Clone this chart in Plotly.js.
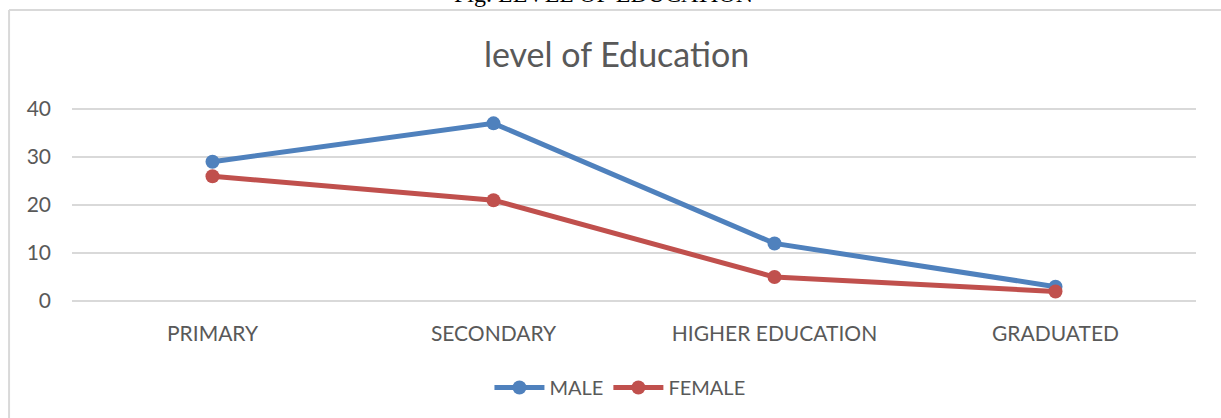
<!DOCTYPE html>
<html>
<head>
<meta charset="utf-8">
<script src="https://cdn.plot.ly/plotly-3.0.1.min.js"></script>
<style>html,body{margin:0;padding:0;background:#fff;overflow:hidden}#chart{width:1221px;height:418px}</style>
</head>
<body>
<div id="chart"></div>
<script>
const categories = ["PRIMARY", "SECONDARY", "HIGHER EDUCATION", "GRADUATED"];
const maleValues = [29, 37, 12, 3];
const femaleValues = [26, 21, 5, 2];
const yTicks = [0, 10, 20, 30, 40];

const font = "Lato, 'Open Sans', sans-serif";
const grey = "#595959";

const traces = [
  {x: categories, y: maleValues, name: "MALE", type: "scatter", mode: "lines+markers",
   line: {color: "#4F81BD", width: 5}, marker: {color: "#4F81BD", size: 14}},
  {x: categories, y: femaleValues, name: "FEMALE", type: "scatter", mode: "lines+markers",
   line: {color: "#C0504D", width: 5}, marker: {color: "#C0504D", size: 14}}
];

// plot area: top pixel 107, bottom pixel 303 => 196 px for range [-0.4, 40.4] (4.8 px/unit)
const T = 107, B = 303, H = B - T;
const py = p => (B - p) / H;   // pixel row -> paper y

const layout = {
  width: 1221, height: 418,
  margin: {l: 72, r: 25, t: T, b: 418 - B, autoexpand: false},
  paper_bgcolor: "#fff", plot_bgcolor: "#fff",
  font: {family: font, color: grey, size: 20},
  title: {text: "level of Education", font: {family: font, size: 34, color: grey},
          x: 0.505, xanchor: "center", y: 0.868, yanchor: "middle"},
  xaxis: {type: "category", range: [-0.5, 3.5], showgrid: false, zeroline: false,
          showline: false, ticks: "", ticklabelstandoff: 16,
          tickfont: {family: font, size: 21, color: grey}},
  yaxis: {range: [-0.4, 40.4], tickvals: yTicks, showgrid: true, gridcolor: "#D9D9D9", gridwidth: 1.5,
          zeroline: false, showline: false, ticks: "", ticklabelstandoff: 20,
          tickfont: {family: font, size: 21, color: grey}},
  showlegend: true,
  legend: {orientation: "h", x: 0.4875, xanchor: "center", y: py(368), yanchor: "top",
           font: {family: font, size: 20, color: grey}, itemwidth: 50, traceorder: "normal"},
  shapes: [
    {type: "line", xref: "paper", yref: "paper", x0: -0.0560, x1: 1.03, y0: py(10), y1: py(10),
     line: {color: "#D9D9D9", width: 2}},
    {type: "line", xref: "paper", yref: "paper", x0: -0.0560, x1: -0.0560, y0: py(10), y1: py(430),
     line: {color: "#D9D9D9", width: 2}}
  ],
  annotations: [
    {text: "Fig. LEVEL OF EDUCATION", xref: "paper", yref: "paper", x: 0.4733, y: py(9),
     xanchor: "center", yanchor: "bottom", showarrow: false,
     font: {family: "'Liberation Serif', 'Times New Roman', serif", size: 24, color: "#000"}}
  ]
};

Plotly.newPlot("chart", traces, layout, {displayModeBar: false, staticPlot: true});
</script>
</body>
</html>
